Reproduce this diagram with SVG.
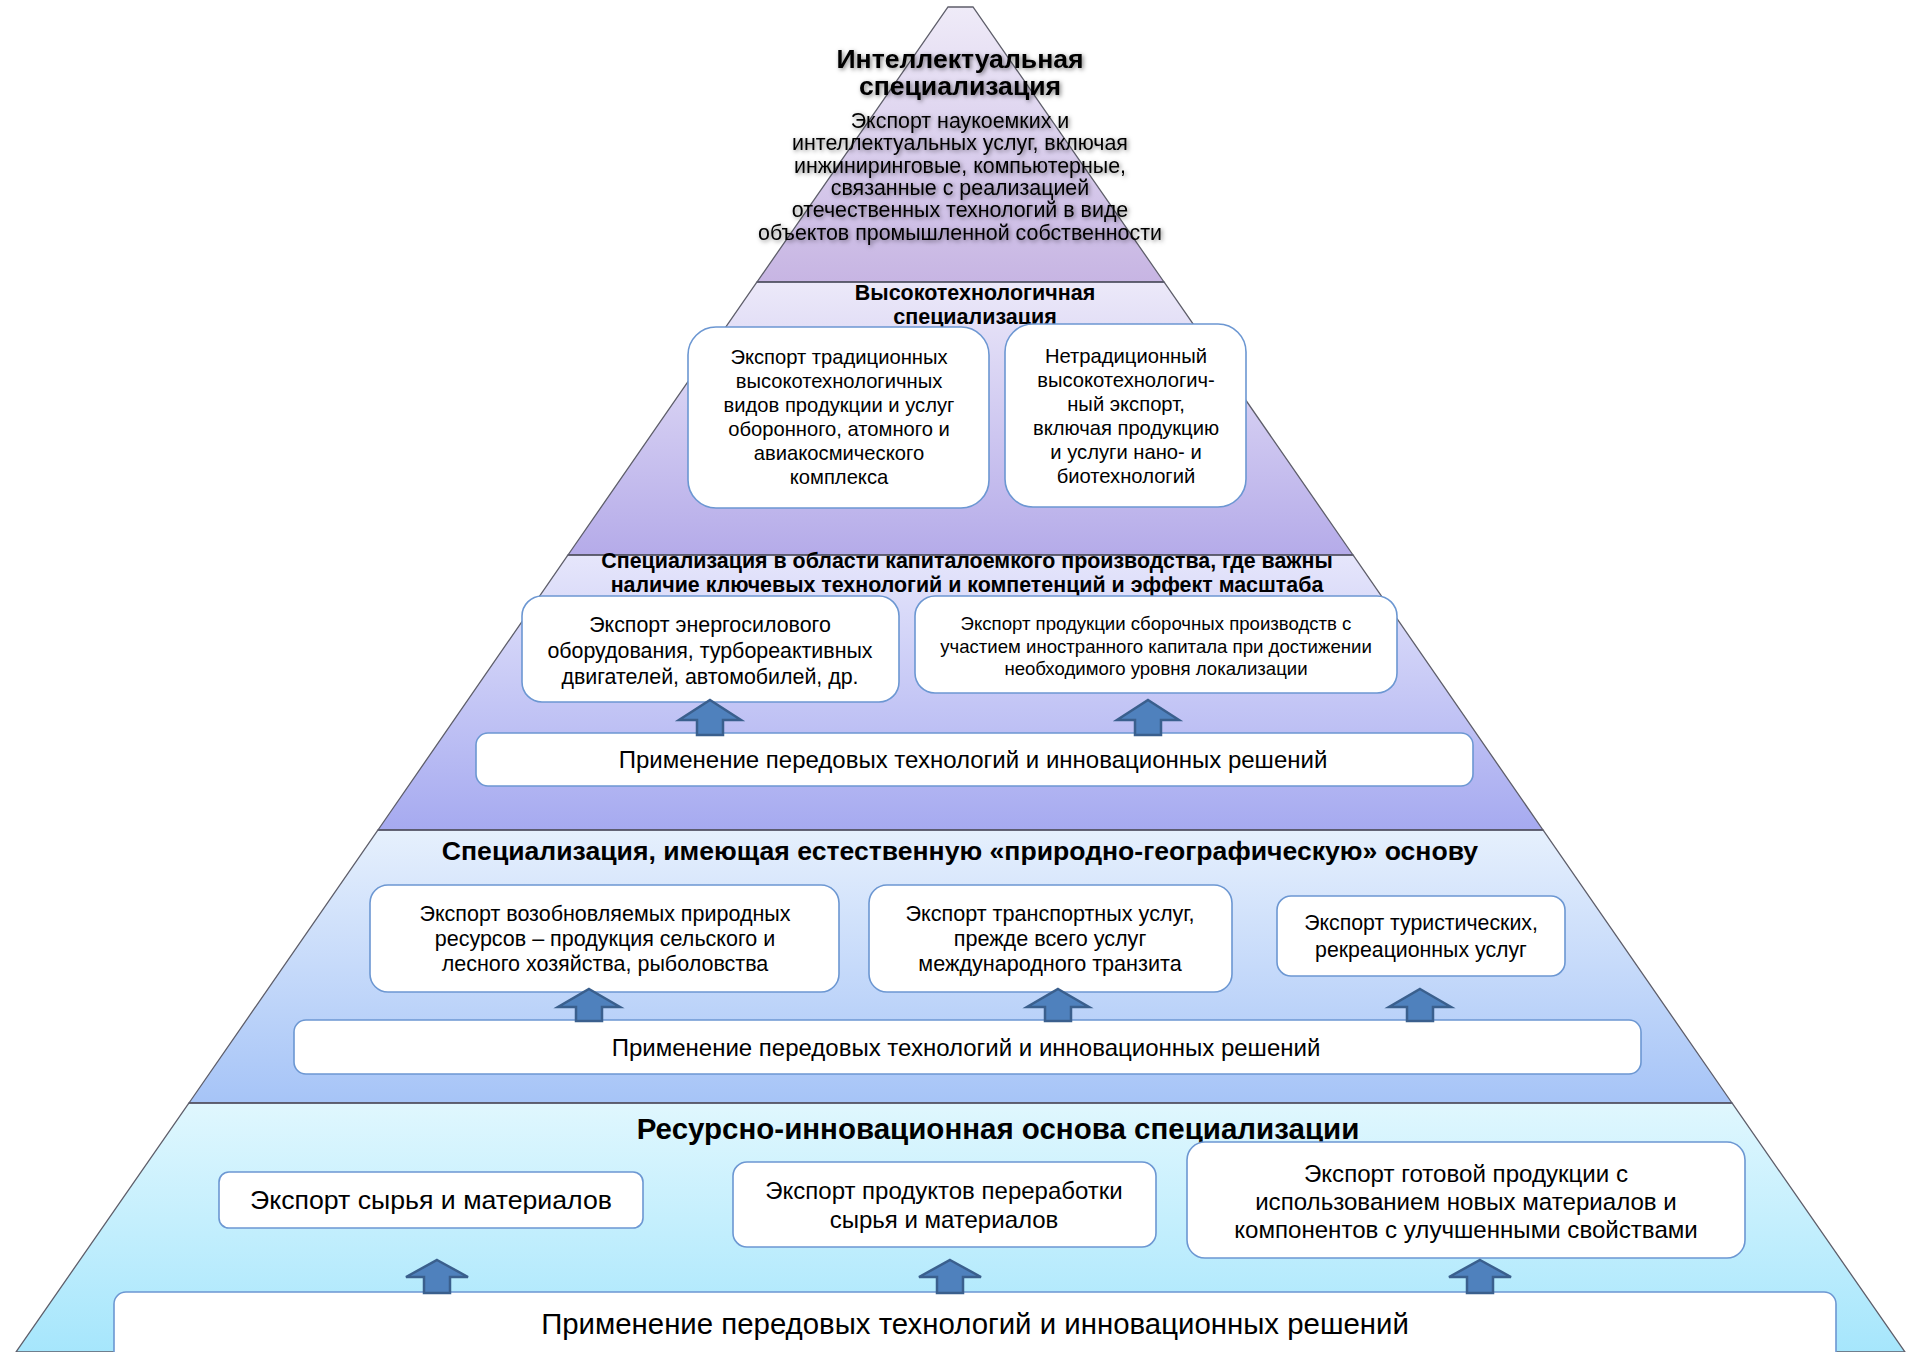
<svg xmlns="http://www.w3.org/2000/svg" width="1920" height="1352" viewBox="0 0 1920 1352">
<defs>
<linearGradient id="g1" x1="0" y1="0" x2="0" y2="1"><stop offset="0" stop-color="#efebf8"/><stop offset="1" stop-color="#c7b5e3"/></linearGradient>
<linearGradient id="g2" x1="0" y1="0" x2="0" y2="1"><stop offset="0" stop-color="#ece9f9"/><stop offset="1" stop-color="#b5abe9"/></linearGradient>
<linearGradient id="g3" x1="0" y1="0" x2="0" y2="1"><stop offset="0" stop-color="#e6e6fb"/><stop offset="1" stop-color="#a6aaf0"/></linearGradient>
<linearGradient id="g4" x1="0" y1="0" x2="0" y2="1"><stop offset="0" stop-color="#e6f0fd"/><stop offset="1" stop-color="#a6c4f7"/></linearGradient>
<linearGradient id="g5" x1="0" y1="0" x2="0" y2="1"><stop offset="0" stop-color="#e0f7fe"/><stop offset="1" stop-color="#a6e6fc"/></linearGradient>
<filter id="ts" x="-10%" y="-30%" width="120%" height="160%"><feDropShadow dx="1.5" dy="1.5" stdDeviation="2" flood-color="#000" flood-opacity="0.5"/></filter>
</defs>
<style>
.tier{stroke:#5e5e6a;stroke-width:1.3}
.sep{stroke:#5a5a6e;stroke-width:1.6}
.box{fill:#fff;stroke:#6c97d2;stroke-width:1.6}
.t{font-family:"Liberation Sans",Arial,sans-serif;fill:#000;text-anchor:middle}
.b{font-weight:bold}
.arr{fill:#4f81bd;stroke:#3a5f8d;stroke-width:2.5;stroke-linejoin:miter}
</style>

<g id="tier1">
<polygon class="tier" fill="url(#g1)" points="948,7 973,7 1164,282 757,282"/>
<g filter="url(#ts)">
<text class="t b" font-size="26.6" x="960" y="67.5">Интеллектуальная</text>
<text class="t b" font-size="26.6" x="960" y="94.5">специализация</text>
<text class="t" font-size="21.4"><tspan x="960" y="128">Экспорт наукоемких и</tspan><tspan x="960" y="150.3">интеллектуальных услуг, включая</tspan><tspan x="960" y="172.6">инжиниринговые, компьютерные,</tspan><tspan x="960" y="194.9">связанные с реализацией</tspan><tspan x="960" y="217.2">отечественных технологий в виде</tspan><tspan x="960" y="239.5">объектов промышленной собственности</tspan></text>
</g>
</g>

<g id="tier2">
<polygon class="tier" fill="url(#g2)" points="757,282 1164,282 1353,555 568,555"/>
<line class="sep" x1="757" y1="282" x2="1164" y2="282"/>
<text class="t b" font-size="21.5" x="975" y="300">Высокотехнологичная</text>
<text class="t b" font-size="21.5" x="975" y="324">специализация</text>
</g>

<g id="tier3">
<polygon class="tier" fill="url(#g3)" points="568,555 1353,555 1543,830 378,830"/>
<line class="sep" x1="568" y1="555" x2="1353" y2="555"/>
<text class="t b" font-size="21.4" x="967" y="568">Специализация в области капиталоемкого производства, где важны</text>
<text class="t b" font-size="21.4" x="967" y="592">наличие ключевых технологий и компетенций и эффект масштаба</text>
</g>

<g id="tier4">
<polygon class="tier" fill="url(#g4)" points="378,830 1543,830 1732,1103 189,1103"/>
<line class="sep" x1="378" y1="830" x2="1543" y2="830"/>
<text class="t b" font-size="26.6" x="960" y="860">Специализация, имеющая естественную «природно-географическую» основу</text>
</g>

<g id="tier5">
<polygon class="tier" fill="url(#g5)" points="189,1103 1732,1103 1905,1352 16,1352"/>
<line class="sep" x1="189" y1="1103" x2="1732" y2="1103"/>
<text class="t b" font-size="29.5" x="998" y="1138.5">Ресурсно-инновационная основа специализации</text>
</g>

<g id="nodeA">
<rect class="box" x="688" y="327" width="301" height="181" rx="28"/>
<text class="t" font-size="20.2"><tspan x="839" y="364">Экспорт традиционных</tspan><tspan x="839" y="388">высокотехнологичных</tspan><tspan x="839" y="412">видов продукции и услуг</tspan><tspan x="839" y="436">оборонного, атомного и</tspan><tspan x="839" y="460">авиакосмического</tspan><tspan x="839" y="484">комплекса</tspan></text>
</g>
<g id="nodeB">
<rect class="box" x="1005" y="324" width="241" height="183" rx="28"/>
<text class="t" font-size="20.2"><tspan x="1126" y="362.5">Нетрадиционный</tspan><tspan x="1126" y="386.5">высокотехнологич-</tspan><tspan x="1126" y="410.5">ный экспорт,</tspan><tspan x="1126" y="434.5">включая продукцию</tspan><tspan x="1126" y="458.5">и услуги нано- и</tspan><tspan x="1126" y="482.5">биотехнологий</tspan></text>
</g>

<g id="nodeC">
<rect class="box" x="522" y="596" width="377" height="106" rx="20"/>
<text class="t" font-size="21.4"><tspan x="710" y="632">Экспорт энергосилового</tspan><tspan x="710" y="657.5">оборудования, турбореактивных</tspan><tspan x="710" y="683.5">двигателей, автомобилей, др.</tspan></text>
</g>
<g id="nodeD">
<rect class="box" x="915" y="596" width="482" height="97" rx="20"/>
<text class="t" font-size="18.6"><tspan x="1156" y="629.5">Экспорт продукции сборочных производств с</tspan><tspan x="1156" y="652.5">участием иностранного капитала при достижении</tspan><tspan x="1156" y="675">необходимого уровня локализации</tspan></text>
</g>
<g id="nodeE">
<rect class="box" x="476" y="733" width="997" height="53" rx="12"/>
<text class="t" font-size="24" x="973" y="768">Применение передовых технологий и инновационных решений</text>
</g>

<g id="nodeF">
<rect class="box" x="370" y="885" width="469" height="107" rx="18"/>
<text class="t" font-size="21.5"><tspan x="605" y="921">Экспорт возобновляемых природных</tspan><tspan x="605" y="945.5">ресурсов – продукция сельского и</tspan><tspan x="605" y="971">лесного хозяйства, рыболовства</tspan></text>
</g>
<g id="nodeG">
<rect class="box" x="869" y="885" width="363" height="107" rx="18"/>
<text class="t" font-size="21.6"><tspan x="1050" y="921">Экспорт транспортных услуг,</tspan><tspan x="1050" y="945.5">прежде всего услуг</tspan><tspan x="1050" y="971">международного транзита</tspan></text>
</g>
<g id="nodeH">
<rect class="box" x="1277" y="896" width="288" height="80" rx="14"/>
<text class="t" font-size="21.3"><tspan x="1421" y="930">Экспорт туристических,</tspan><tspan x="1421" y="957">рекреационных услуг</tspan></text>
</g>
<g id="nodeI">
<rect class="box" x="294" y="1020" width="1347" height="54" rx="12"/>
<text class="t" font-size="24" x="966" y="1056">Применение передовых технологий и инновационных решений</text>
</g>

<g id="nodeJ">
<rect class="box" x="219" y="1172" width="424" height="56" rx="10"/>
<text class="t" font-size="26.7" x="431" y="1209">Экспорт сырья и материалов</text>
</g>
<g id="nodeK">
<rect class="box" x="733" y="1162" width="423" height="85" rx="14"/>
<text class="t" font-size="24"><tspan x="944" y="1198.5">Экспорт продуктов переработки</tspan><tspan x="944" y="1228">сырья и материалов</tspan></text>
</g>
<g id="nodeL">
<rect class="box" x="1187" y="1142" width="558" height="116" rx="18"/>
<text class="t" font-size="24.1"><tspan x="1466" y="1181.5">Экспорт готовой продукции с</tspan><tspan x="1466" y="1209.5">использованием новых материалов и</tspan><tspan x="1466" y="1237.5">компонентов с улучшенными свойствами</tspan></text>
</g>
<g id="nodeM">
<rect class="box" x="114" y="1292" width="1722" height="90" rx="12"/>
<text class="t" font-size="29.4" x="975" y="1334">Применение передовых технологий и инновационных решений</text>
</g>

<g id="connectors">
<path class="arr" d="M710,700 L741,720 L723,720 L723,735 L697,735 L697,720 L679,720 Z"/>
<path class="arr" d="M1148,700 L1179,720 L1161,720 L1161,735 L1135,735 L1135,720 L1117,720 Z"/>
<path class="arr" d="M589,989 L620,1007 L602,1007 L602,1021 L576,1021 L576,1007 L558,1007 Z"/>
<path class="arr" d="M1058,989 L1089,1007 L1071,1007 L1071,1021 L1045,1021 L1045,1007 L1027,1007 Z"/>
<path class="arr" d="M1420,989 L1451,1007 L1433,1007 L1433,1021 L1407,1021 L1407,1007 L1389,1007 Z"/>
<path class="arr" d="M437,1260 L468,1277 L450,1277 L450,1293 L424,1293 L424,1277 L406,1277 Z"/>
<path class="arr" d="M950,1260 L981,1277 L963,1277 L963,1293 L937,1293 L937,1277 L919,1277 Z"/>
<path class="arr" d="M1480,1260 L1511,1277 L1493,1277 L1493,1293 L1467,1293 L1467,1277 L1449,1277 Z"/>
</g>
</svg>
